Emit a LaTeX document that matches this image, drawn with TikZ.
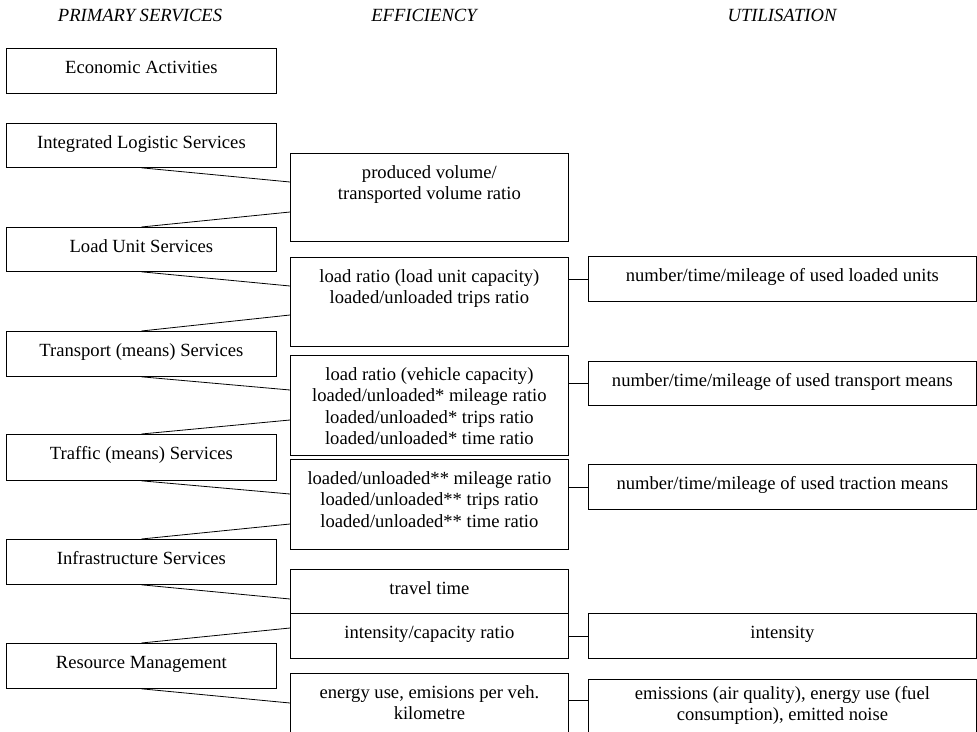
\documentclass[tikz,border=0pt]{standalone}
\usepackage{fontspec}
\setmainfont{Liberation Serif}
\usetikzlibrary{calc}
\newcommand{\celltext}[3]{\parbox[t][#1pt][t]{#2pt}{\centering\strut #3}}

\begin{document}
\begin{tikzpicture}[x=1pt,y=-1pt,
    font=\fontsize{18.6}{21.5}\selectfont,
    cell/.style={draw,line width=0.8pt,inner xsep=0pt,inner ysep=10pt,anchor=north west},
    head/.style={font=\fontsize{18.6}{21.5}\selectfont\itshape}]
    \useasboundingbox (0,0) rectangle (977,731);
    %headings
    \node[head] (hprim) at (140,15) {PRIMARY SERVICES};
    \node[head] (heff) at (424,15) {EFFICIENCY};
    \node[head] (huse) at (782,15) {UTILISATION};
    %primary services
    \node[cell] (econ) at (6,48) {\celltext{25}{270}{Economic Activities}};
    \node[cell] (ils) at (6,123) {\celltext{24}{270}{Integrated Logistic Services}};
    \node[cell] (lus) at (6,227) {\celltext{24}{270}{Load Unit Services}};
    \node[cell] (tps) at (6,331) {\celltext{25}{270}{Transport (means) Services}};
    \node[cell] (trs) at (6,434) {\celltext{26}{270}{Traffic (means) Services}};
    \node[cell] (inf) at (6,539) {\celltext{25}{270}{Infrastructure Services}};
    \node[cell] (res) at (6,643) {\celltext{25}{270}{Resource Management}};
    %efficiency
    \node[cell] (eff1) at (290,153) {\celltext{68}{278}{produced volume/\\transported volume ratio}};
    \node[cell] (eff2) at (290,257) {\celltext{69}{278}{load ratio (load unit capacity)\\loaded/unloaded trips ratio}};
    \node[cell] (eff3) at (290,355) {\celltext{80}{278}{load ratio (vehicle capacity)\\loaded/unloaded* mileage ratio\\loaded/unloaded* trips ratio\\loaded/unloaded* time ratio}};
    \node[cell] (eff4) at (290,459) {\celltext{70}{278}{loaded/unloaded** mileage ratio\\loaded/unloaded** trips ratio\\loaded/unloaded** time ratio}};
    \node[cell] (eff5) at (290,569) {\celltext{24}{278}{travel time}};
    \node[cell] (eff6) at (290,613) {\celltext{25}{278}{intensity/capacity ratio}};
    \node[cell] (eff7) at (290,673) {\celltext{70}{278}{energy use, emisions per veh.\\kilometre}};
    %utilisation
    \node[cell] (use1) at (588,256) {\celltext{25}{388}{number/time/mileage of used loaded units}};
    \node[cell] (use2) at (588,361) {\celltext{24}{388}{number/time/mileage of used transport means}};
    \node[cell] (use3) at (588,464) {\celltext{25}{388}{number/time/mileage of used traction means}};
    \node[cell] (use4) at (588,613) {\celltext{25}{388}{intensity}};
    \node[cell,inner ysep=5pt] (use5) at (588,679) {\celltext{80}{388}{emissions (air quality), energy use (fuel\\consumption), emitted noise}};
    %links to efficiency
    \draw[line width=0.8pt] (ils.south) -- ($(eff1.north west)+(0,29)$);
    \draw[line width=0.8pt] ($(eff1.north west)+(0,59)$) -- (lus.north);
    \draw[line width=0.8pt] (lus.south) -- ($(eff2.north west)+(0,29)$);
    \draw[line width=0.8pt] ($(eff2.north west)+(0,58)$) -- (tps.north);
    \draw[line width=0.8pt] (tps.south) -- ($(eff3.north west)+(0,35)$);
    \draw[line width=0.8pt] ($(eff3.north west)+(0,65)$) -- (trs.north);
    \draw[line width=0.8pt] (trs.south) -- ($(eff4.north west)+(0,35)$);
    \draw[line width=0.8pt] ($(eff4.north west)+(0,65)$) -- (inf.north);
    \draw[line width=0.8pt] (inf.south) -- ($(eff5.north west)+(0,30)$);
    \draw[line width=0.8pt] ($(eff6.north west)+(0,15)$) -- (res.north);
    \draw[line width=0.8pt] (res.south) -- ($(eff7.north west)+(0,30)$);
    %links to utilisation
    \draw[line width=0.8pt] (use1.west) -- (use1.west -| eff2.east);
    \draw[line width=0.8pt] (use2.west) -- (use2.west -| eff3.east);
    \draw[line width=0.8pt] (use3.west) -- (use3.west -| eff4.east);
    \draw[line width=0.8pt] (use4.west) -- (use4.west -| eff6.east);
    \coordinate (e5) at ($(use5.north west)+(0,21)$);
    \draw[line width=0.8pt] (e5) -- (e5 -| eff7.east);
\end{tikzpicture}
\end{document}
